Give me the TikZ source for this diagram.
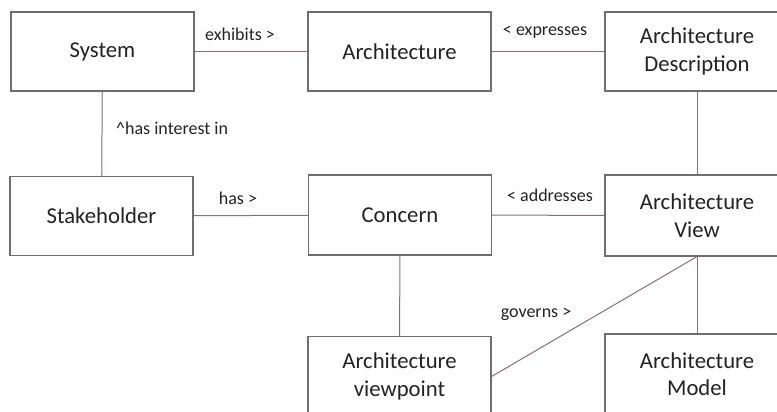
\documentclass[tikz,border=0pt]{standalone}
\usepackage{fontspec}
\setmainfont{Carlito}
\definecolor{boxline}{RGB}{110,110,110}
\definecolor{conn}{RGB}{140,110,118}
\definecolor{txt}{RGB}{35,35,35}
\begin{document}
\begin{tikzpicture}[x=1pt,y=-1pt,
  box/.style={draw=boxline,line width=1.1pt,fill=white,minimum width=183pt,minimum height=79pt,inner sep=0pt,align=center,font=\fontsize{22.7}{27.5}\selectfont,text=txt},
  conline/.style={draw=conn,line width=1pt},
  lbl/.style={font=\fontsize{18}{21}\selectfont,text=txt,inner sep=0pt}]
\useasboundingbox (0,0) rectangle (777,412);
\clip (0,0) rectangle (777,412);
\node[box] (sys) at (102.5,51.5) {System};
\node[box] (arch) at (399.5,51.5) {Architecture};
\node[box,minimum width=184pt] (ad) at (697,51.5) {Architecture\\Description};
\node[box] (stk) at (101.5,216) {Stakeholder};
\node[box,minimum height=80pt] (con) at (400,215) {Concern};
\node[box,minimum width=184pt,minimum height=81pt] (av) at (697,215.5) {Architecture\\View};
\node[box,minimum height=80pt] (vp) at (399.5,376.5) {Architecture\\viewpoint};
\node[box,minimum width=184pt,minimum height=80pt] (am) at (697,374) {Architecture\\Model};
\draw[conline] (sys) -- (arch);
\draw[conline] (arch) -- (ad);
\draw[conline] (sys) -- (stk);
\draw[conline] (stk) -- (con);
\draw[conline] (con) -- (av);
\draw[conline] (ad) -- (av);
\draw[conline] (con) -- (vp);
\draw[conline] (av) -- (am);
\draw[conline] (av.south) -- (vp.east);
\node[lbl] (l1) at (240,34) {exhibits >};
\node[lbl,anchor=west] (l2) at (116,128) {\textasciicircum has interest in};
\node[lbl] (l3) at (545,32) {< expresses};
\node[lbl] (l4) at (238,198) {has >};
\node[lbl] (l5) at (550,195) {< addresses};
\node[lbl] (l6) at (536,314) {governs >};
\end{tikzpicture}
\end{document}
